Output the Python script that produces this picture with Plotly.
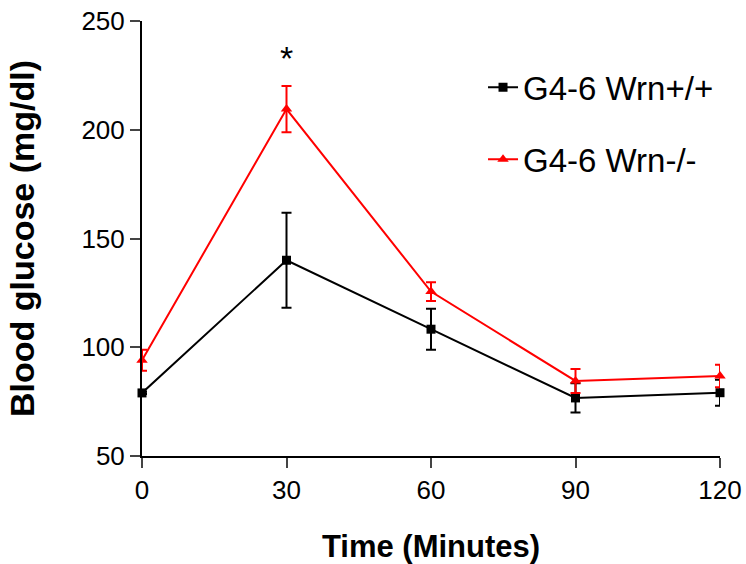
import plotly.graph_objects as go

time_min = [0, 30, 60, 90, 120]
wt_mean = [79, 140, 108.3, 76.7, 79.1]
wt_err = [0.5, 21.8, 9.4, 6.7, 6.0]
ko_mean = [94, 209.5, 125.6, 84.5, 86.8]
ko_err = [4.8, 10.6, 4.3, 5.5, 5.2]
series_names = ["G4-6 Wrn+/+", "G4-6 Wrn-/-"]
x_ticks = [0, 30, 60, 90, 120]
y_ticks = [50, 100, 150, 200, 250]

fig = go.Figure()
fig.add_trace(go.Scatter(
    x=time_min, y=wt_mean, name=series_names[0], mode="lines+markers",
    line=dict(color="black", width=2),
    marker=dict(symbol="square", size=9, color="black"),
    error_y=dict(type="data", array=wt_err, color="black", thickness=2, width=5),
    cliponaxis=False, legendgroup="a",
))
fig.add_trace(go.Scatter(
    x=time_min, y=ko_mean, name=series_names[1], mode="lines+markers",
    line=dict(color="#ff0000", width=2),
    marker=dict(symbol="triangle-up", size=10, color="#ff0000"),
    error_y=dict(type="data", array=ko_err, color="#ff0000", thickness=2, width=5),
    cliponaxis=False, legendgroup="b",
))

fig.add_annotation(x=30, y=233, text="*", showarrow=False,
                   font=dict(size=34, color="black", family="Liberation Sans"))

fig.update_layout(
    width=746, height=564,
    margin=dict(l=142, r=26, t=21, b=108, autoexpand=False),
    paper_bgcolor="white", plot_bgcolor="white",
    font=dict(family="Liberation Sans", color="black"),
    showlegend=True,
    legend=dict(x=0.59, y=0.912, xanchor="left", yanchor="top",
                font=dict(size=33, family="Liberation Sans"),
                bgcolor="rgba(0,0,0,0)", traceorder="grouped", tracegroupgap=26),
    xaxis=dict(range=[0, 120], tickvals=x_ticks, ticks="outside", ticklen=10,
               tickwidth=2, linewidth=2, linecolor="black", showgrid=False,
               zeroline=False, tickfont=dict(size=26), automargin=False,
               ticklabeloverflow="allow",
               title=dict(text="<b>Time (Minutes)</b>", standoff=32,
                          font=dict(size=31))),
    yaxis=dict(range=[50, 250], tickvals=y_ticks, ticks="outside", ticklen=10,
               tickwidth=2, linewidth=2, linecolor="black", showgrid=False,
               zeroline=False, tickfont=dict(size=26), automargin=False,
               ticklabeloverflow="allow",
               title=dict(text="<b>Blood glucose (mg/dl)</b>", standoff=37,
                          font=dict(size=34))),
)

fig.write_html("out.html",
               config={"displayModeBar": False},
               post_script="document.body.style.margin='0';document.body.style.overflow='hidden';")
